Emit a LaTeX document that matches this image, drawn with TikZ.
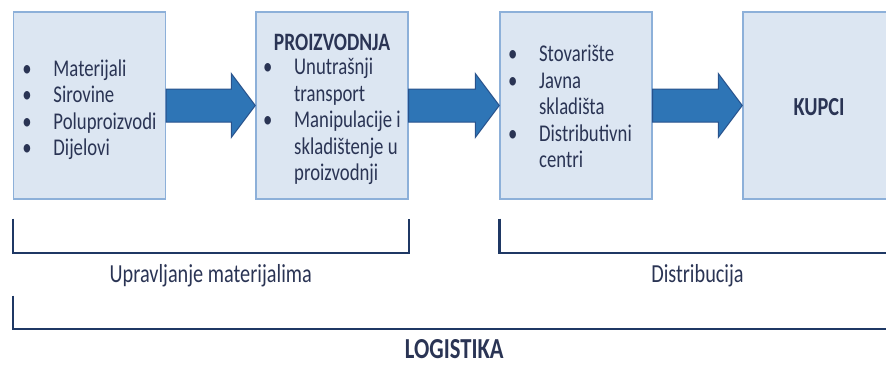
\documentclass[tikz,border=0pt]{standalone}
\usepackage{fontspec}
\setmainfont{Carlito}[FakeStretch=0.78]

\definecolor{boxfill}{RGB}{220,230,242}
\definecolor{boxline}{RGB}{141,176,217}
\definecolor{arrowfill}{RGB}{46,117,182}
\definecolor{arrowline}{RGB}{40,82,140}
\definecolor{navy}{RGB}{31,56,100}
\definecolor{inktext}{RGB}{42,52,84}

\newcommand{\bodysize}{\fontsize{24}{26.5}\selectfont}
\newcommand{\itm}{\makebox[31pt][l]{\textbullet}}
\newcommand{\cont}{\hspace*{31pt}}
\newcommand{\flowarrow}[2]{%
\filldraw[flow] ([yshift=16.5pt]#1.east) -- ([xshift=-24pt,yshift=16.5pt]#2.west)
  -- ([xshift=-24pt,yshift=32pt]#2.west) -- (#2.west)
  -- ([xshift=-24pt,yshift=-32pt]#2.west) -- ([xshift=-24pt,yshift=-16.5pt]#2.west)
  -- ([yshift=-16.5pt]#1.east) -- cycle;}

\begin{document}
\begin{tikzpicture}[x=1pt,y=1pt,text=inktext,
  box/.style={draw=boxline,line width=1.4pt,fill=boxfill,minimum width=152pt,minimum height=187pt,inner sep=0pt},
  list/.style={align=left,inner sep=0pt,font=\bodysize},
  title/.style={inner sep=0pt,font=\fontsize{25}{27}\selectfont\bfseries},
  flow/.style={fill=arrowfill,draw=arrowline,line width=1pt},
  bracket/.style={draw=navy,line width=2.4pt},
  caption/.style={inner sep=0pt,font=\fontsize{26}{28}\selectfont}]
\clip (0,0) rectangle (886,365);

\node [box] (mat) at (89.5,259.5) {};
\node [box] (proiz) at (332,259.5) {};
\node [box] (dist) at (576,259.5) {};
\node [box] (kupci) at (819,259.5) {};

\node [list] (matlist) at ([yshift=-4pt]mat.center) {\itm Materijali\\ \itm Sirovine\\ \itm Poluproizvodi\\ \itm Dijelovi};
\node [title] (proiztitle) at ([yshift=-31pt]proiz.north) {PROIZVODNJA};
\node [list] (proizlist) at ([yshift=-16pt]proiz.center) {\itm Unutrašnji\\ \cont transport\\ \itm Manipulacije i\\ \cont skladištenje u\\ \cont proizvodnji};
\node [list] (distlist) at ([xshift=-6pt,yshift=-1pt]dist.center) {\itm Stovarište\\ \itm Javna\\ \cont skladišta\\ \itm Distributivni\\ \cont centri};
\node [title,font=\fontsize{26}{28}\selectfont\bfseries] (kupcititle) at ([yshift=-2pt]kupci.center) {KUPCI};

\flowarrow{mat}{proiz}
\flowarrow{proiz}{dist}
\flowarrow{dist}{kupci}

\draw [bracket] ([yshift=-19pt]mat.south west) -- ([yshift=-53pt]mat.south west)
  -- node [caption,yshift=-23pt] (upravljanje) {Upravljanje materijalima} ([yshift=-53pt]proiz.south east)
  -- ([yshift=-19pt]proiz.south east);
\draw [bracket] ([yshift=-19pt]dist.south west) -- ([yshift=-53pt]dist.south west)
  -- node [caption,yshift=-23pt] (distribucija) {Distribucija} ([yshift=-53pt]kupci.south east)
  -- ([yshift=-19pt]kupci.south east);
\draw [bracket] ([yshift=-96pt]mat.south west) -- ([yshift=-129pt]mat.south west)
  -- node [title,font=\fontsize{29}{31}\selectfont\bfseries,yshift=-20pt] (logistika) {LOGISTIKA} ([yshift=-129pt]kupci.south east)
  -- ([yshift=-96pt]kupci.south east);
\end{tikzpicture}
\end{document}
